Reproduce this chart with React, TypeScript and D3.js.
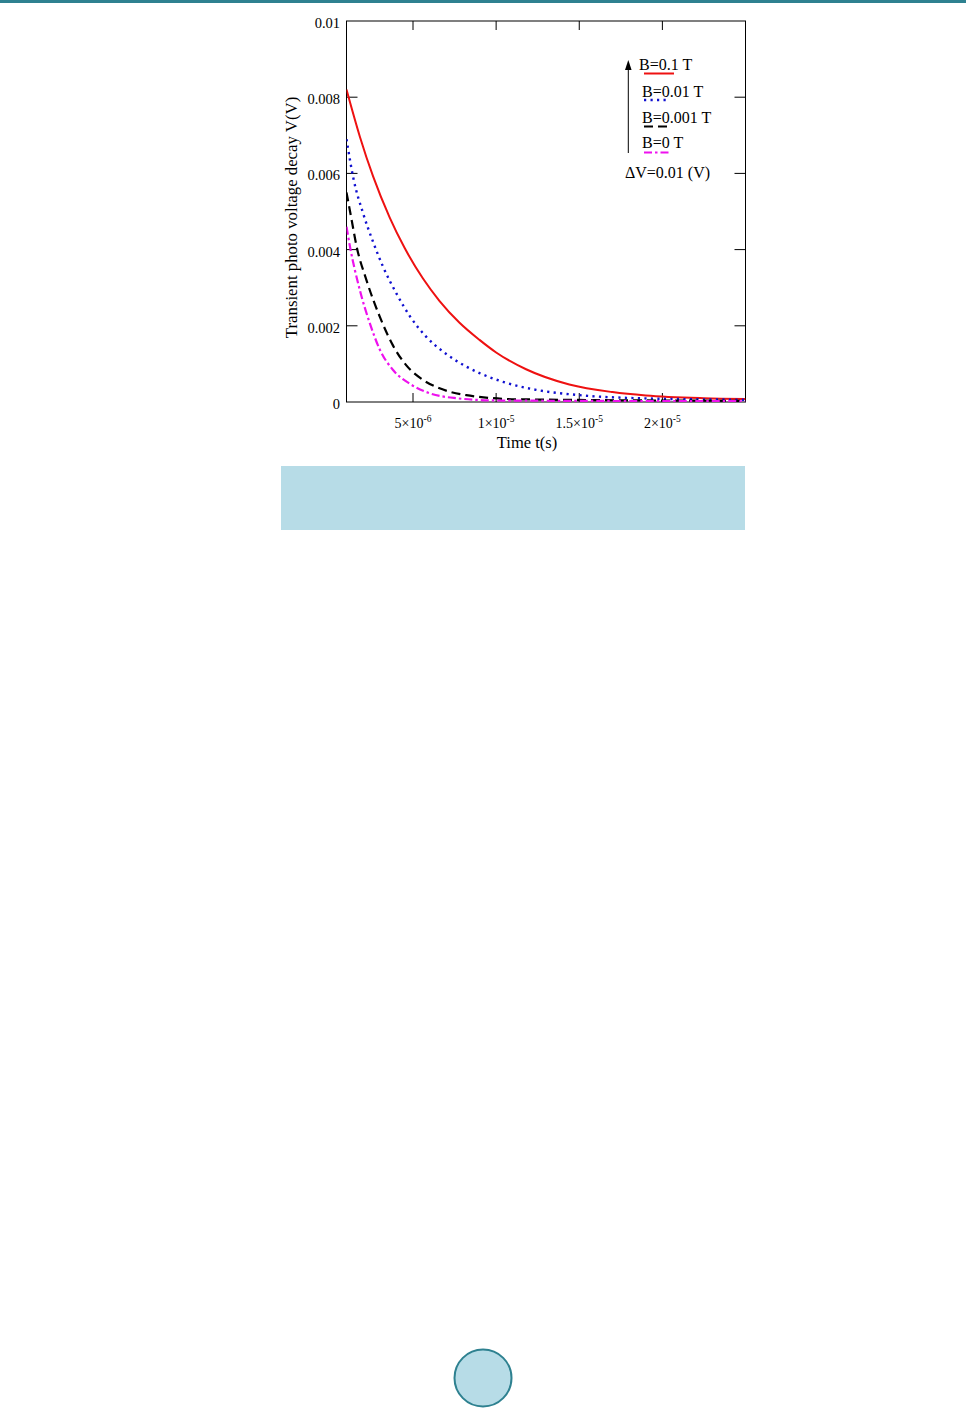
import React from "react";
import * as d3 from "d3";

// ---- data (t in seconds, V in volts) ----
const redT = [1.0e-6, 1.8e-6, 2.6e-6, 3.6e-6, 4.5e-6, 5.6e-6, 6.6e-6, 7.8e-6, 9.0e-6, 10.0e-6, 11.8e-6, 14.4e-6, 17.0e-6, 19.0e-6, 22.5e-6, 25.0e-6];
const redV = [0.0082, 0.00697, 0.00592, 0.00484, 0.00404, 0.00324, 0.00265, 0.00208, 0.00163, 0.0013, 0.00086, 0.00046, 0.00026, 0.00017, 0.0001, 0.00008];

const blueT = [1.0e-6, 1.4e-6, 2.0e-6, 2.6e-6, 3.2e-6, 4.0e-6, 4.8e-6, 5.8e-6, 7.0e-6, 8.2e-6, 9.0e-6, 10.4e-6, 12.4e-6, 15.0e-6, 18.5e-6, 25.0e-6];
const blueV = [0.0069, 0.0059, 0.00495, 0.0042, 0.00355, 0.00285, 0.00226, 0.00171, 0.00126, 0.00093, 0.00076, 0.00053, 0.00032, 0.00018, 0.0001, 0.00006];

const blackT = [1.0e-6, 1.3e-6, 1.6e-6, 2.2e-6, 3.0e-6, 3.8e-6, 4.6e-6, 5.6e-6, 6.6e-6, 8.2e-6, 11.4e-6, 25.0e-6];
const blackV = [0.0055, 0.0048, 0.0041, 0.0032, 0.00224, 0.00148, 0.00096, 0.00058, 0.00036, 0.00018, 0.00007, 0.00003];

const magT = [1.0e-6, 1.2e-6, 1.8e-6, 2.4e-6, 3.0e-6, 3.8e-6, 4.8e-6, 6.0e-6, 7.6e-6, 10.0e-6, 25.0e-6];
const magV = [0.0046, 0.0041, 0.00294, 0.00207, 0.00138, 0.00084, 0.00048, 0.00023, 0.0001, 0.00004, 0.00002];

const seriesNames = ["B=0.1 T", "B=0.01 T", "B=0.001 T", "B=0 T"];

const xTicks = [5e-6, 1e-5, 1.5e-5, 2e-5];
const xTickMant = ["5", "1", "1.5", "2"];
const xTickExp = ["-6", "-5", "-5", "-5"];

const yTicks = [0, 0.002, 0.004, 0.006, 0.008, 0.01];
const yTickLabels = ["0", "0.002", "0.004", "0.006", "0.008", "0.01"];

const W = 966;
const H = 1409;
const FONT = "'Liberation Serif', 'Times New Roman', serif";

export default function App() {
  const left = 346.5, right = 745.5, top = 21, bottom = 402;
  const x = d3.scaleLinear().domain([1e-6, 2.5e-5]).range([left, right]);
  const y = d3.scaleLinear().domain([0, 0.01]).range([bottom, top]);

  const line = d3
    .line<[number, number]>()
    .x((d) => x(d[0]))
    .y((d) => y(d[1]))
    .curve(d3.curveMonotoneX);

  const series = [
    { t: redT, v: redV, color: "#ee1111", dash: "none", width: 2 },
    { t: blueT, v: blueV, color: "#1010d0", dash: "2.2,4.3", width: 2.4 },
    { t: blackT, v: blackV, color: "#000000", dash: "9,5", width: 2.2 },
    { t: magT, v: magV, color: "#ee11ee", dash: "8,3,2.5,3", width: 2.2 },
  ];

  const legendX0 = 644, legendX1 = 673;
  const legendRows = [
    { tx: 639, ty: 70, ly: 73.5 },
    { tx: 642, ty: 96.5, ly: 100 },
    { tx: 642, ty: 122.5, ly: 126.5 },
    { tx: 642, ty: 148, ly: 152.5 },
  ];

  return (
    <svg
      width={W}
      height={H}
      style={{ position: "absolute", left: 0, top: 0, background: "#fff" }}
      fontFamily={FONT}
    >
      {/* top teal line */}
      <rect x={0} y={0} width={W} height={3} fill="#2e8190" />

      {/* plot frame */}
      <rect x={left} y={top} width={right - left} height={bottom - top} fill="none" stroke="#000" strokeWidth={1} />

      {/* x ticks (inward, top & bottom) */}
      {xTicks.map((t, i) => (
        <g key={"xt" + i}>
          <line x1={x(t)} x2={x(t)} y1={bottom} y2={bottom - 9} stroke="#000" />
          <line x1={x(t)} x2={x(t)} y1={top} y2={top + 9} stroke="#000" />
          <text x={x(t)} y={427.5} fontSize={14} textAnchor="middle" fill="#000">
            {xTickMant[i] + "\u00d710"}
            <tspan fontSize={9.5} dy={-6}>{xTickExp[i]}</tspan>
          </text>
        </g>
      ))}

      {/* y ticks (inward, left & right) */}
      {yTicks.map((v, i) => (
        <g key={"yt" + i}>
          {i > 0 && i < yTicks.length - 1 && (
            <>
              <line x1={left} x2={left + 11} y1={y(v)} y2={y(v)} stroke="#000" />
              <line x1={right} x2={right - 11} y1={y(v)} y2={y(v)} stroke="#000" />
            </>
          )}
          <text x={340} y={y(v) + 7} fontSize={14.5} textAnchor="end" fill="#000">
            {yTickLabels[i]}
          </text>
        </g>
      ))}

      {/* curves */}
      <defs>
        <clipPath id="plotclip">
          <rect x={left} y={top} width={right - left} height={bottom - top} />
        </clipPath>
      </defs>
      <g clipPath="url(#plotclip)">
        {series.map((s, i) => (
          <path
            key={"s" + i}
            d={line(s.t.map((t, j) => [t, s.v[j]] as [number, number])) || ""}
            fill="none"
            stroke={s.color}
            strokeWidth={s.width}
            strokeDasharray={s.dash}
          />
        ))}
      </g>

      {/* axis titles */}
      <text x={527} y={448} fontSize={16.5} textAnchor="middle" fill="#000">
        Time t(s)
      </text>
      <text
        transform={`translate(297,${(95 + 340) / 2}) rotate(-90)`}
        fontSize={16.8}
        textAnchor="middle"
        fill="#000"
      >
        Transient photo voltage decay V(V)
      </text>

      {/* legend */}
      <line x1={628.3} x2={628.3} y1={153} y2={68} stroke="#000" strokeWidth={1} />
      <path d="M628.3,60 L625,70 L631.6,70 Z" fill="#000" />
      {series.map((s, i) => (
        <g key={"lg" + i}>
          <text x={legendRows[i].tx} y={legendRows[i].ty} fontSize={16} fill="#000">
            {seriesNames[i]}
          </text>
          <line
            x1={legendX0}
            x2={i === 0 ? legendX1 + 1 : legendX1 - 3}
            y1={legendRows[i].ly}
            y2={legendRows[i].ly}
            stroke={s.color}
            strokeWidth={s.width}
            strokeDasharray={s.dash}
          />
        </g>
      ))}
      <text x={625} y={178} fontSize={16} fill="#000">
        {"\u0394V=0.01 (V)"}
      </text>

      {/* caption box */}
      <rect x={281} y={466} width={464} height={64} fill="#b7dce7" />

      {/* page number circle */}
      <circle cx={483} cy={1378} r={28.5} fill="#b7dce7" stroke="#2e8190" strokeWidth={2} />
    </svg>
  );
}
